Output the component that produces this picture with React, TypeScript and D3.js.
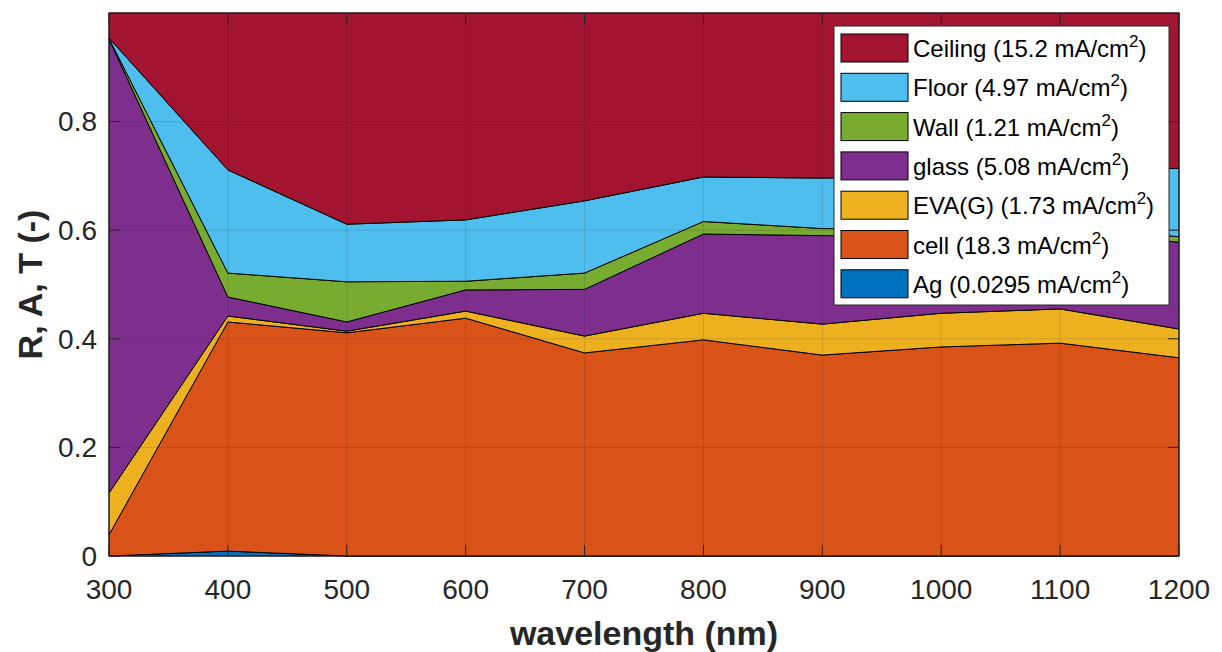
import * as d3 from "d3";

const wavelengths = [300, 400, 500, 600, 700, 800, 900, 1000, 1100, 1200];
// layer values, stacked bottom to top
const agValues = [0.0, 0.009, 0.0, 0.0, 0.0, 0.0, 0.0, 0.0, 0.0, 0.0];
const cellValues = [0.039, 0.422, 0.411, 0.438, 0.374, 0.398, 0.37, 0.385, 0.392, 0.365];
const evaValues = [0.077, 0.011, 0.003, 0.013, 0.031, 0.049, 0.057, 0.062, 0.063, 0.053];
const glassValues = [0.836, 0.035, 0.017, 0.039, 0.086, 0.146, 0.163, 0.143, 0.14, 0.16];
const wallValues = [0.001, 0.044, 0.074, 0.016, 0.03, 0.023, 0.013, 0.013, 0.012, 0.01];
const floorValues = [0.001, 0.19, 0.106, 0.113, 0.133, 0.082, 0.093, 0.097, 0.103, 0.126];
const ceilingValues = [0.046, 0.289, 0.389, 0.381, 0.346, 0.302, 0.304, 0.3, 0.29, 0.286];

const seriesNames = ["Ag", "cell", "EVA(G)", "glass", "Wall", "Floor", "Ceiling"];
const seriesCurrents = ["0.0295", "18.3", "1.73", "5.08", "1.21", "4.97", "15.2"];
const seriesColors = ["#0072BD", "#D95319", "#EDB120", "#7E2F8E", "#77AC30", "#4DBEEE", "#A2142F"];
const seriesValues = [agValues, cellValues, evaValues, glassValues, wallValues, floorValues, ceilingValues];

const yTicks = [0, 0.2, 0.4, 0.6, 0.8];
const xTicks = wavelengths;

const W = 1222;
const H = 652;
const left = 109;
const right = 1179;
const top = 13;
const bottom = 556;
const axisColor = "#262626";
const font = "'Liberation Sans', Arial, Helvetica, sans-serif";

export default function App() {
  const x = d3.scaleLinear().domain([300, 1200]).range([left, right]);
  const y = d3.scaleLinear().domain([0, 1]).range([bottom, top]);

  const rows = wavelengths.map((w, i) => {
    const row: Record<string, number> = { w };
    seriesNames.forEach((n, k) => (row[n] = seriesValues[k][i]));
    return row;
  });
  const stacked = d3.stack<Record<string, number>>().keys(seriesNames)(rows);

  const area = d3
    .area<d3.SeriesPoint<Record<string, number>>>()
    .x((d) => x(d.data.w))
    .y0((d) => y(d[0]))
    .y1((d) => y(d[1]));

  const legendX = 834;
  const legendY = 26;
  const legendW = 335;
  const legendH = 279;
  const rowH = 39.3;
  const legendOrder = [...seriesNames.keys()].reverse();

  return (
    <svg
      width={W}
      height={H}
      style={{ position: "absolute", left: 0, top: 0, background: "#fff" }}
      fontFamily={font}
    >
      {/* stacked areas */}
      {stacked.map((s, k) => (
        <path
          key={seriesNames[k]}
          d={area(s) ?? ""}
          fill={seriesColors[k]}
          stroke="#000"
          strokeWidth={1}
          strokeLinejoin="round"
        />
      ))}

      {/* grid on top */}
      <g stroke={axisColor} strokeOpacity={0.15} strokeWidth={1}>
        {xTicks.map((t) => (
          <line key={"gx" + t} x1={x(t)} x2={x(t)} y1={top} y2={bottom} />
        ))}
        {yTicks.map((t) => (
          <line key={"gy" + t} x1={left} x2={right} y1={y(t)} y2={y(t)} />
        ))}
      </g>

      {/* ticks */}
      <g stroke={axisColor} strokeWidth={1}>
        {xTicks.map((t) => (
          <g key={"tx" + t}>
            <line x1={x(t)} x2={x(t)} y1={bottom} y2={bottom - 11} />
            <line x1={x(t)} x2={x(t)} y1={top} y2={top + 11} />
          </g>
        ))}
        {yTicks.map((t) => (
          <g key={"ty" + t}>
            <line x1={left} x2={left + 11} y1={y(t)} y2={y(t)} />
            <line x1={right} x2={right - 11} y1={y(t)} y2={y(t)} />
          </g>
        ))}
      </g>

      {/* frame */}
      <rect
        x={left}
        y={top}
        width={right - left}
        height={bottom - top}
        fill="none"
        stroke={axisColor}
        strokeWidth={1}
      />

      {/* tick labels */}
      <g fill={axisColor} fontSize={28}>
        {xTicks.map((t) => (
          <text key={"lx" + t} x={x(t)} y={599} textAnchor="middle">
            {t}
          </text>
        ))}
        {yTicks.map((t) => (
          <text key={"ly" + t} x={97} y={y(t)} dy="0.35em" textAnchor="end">
            {t === 0 ? "0" : t.toFixed(1)}
          </text>
        ))}
      </g>

      {/* axis labels */}
      <text
        x={(left + right) / 2}
        y={645}
        textAnchor="middle"
        fontSize={34}
        fontWeight="bold"
        fill={axisColor}
      >
        wavelength (nm)
      </text>
      <text
        transform={`translate(42,${(top + bottom) / 2}) rotate(-90)`}
        textAnchor="middle"
        fontSize={34}
        fontWeight="bold"
        fill={axisColor}
      >
        R, A, T (-)
      </text>

      {/* legend */}
      <rect
        x={legendX}
        y={legendY}
        width={legendW}
        height={legendH}
        fill="#fff"
        stroke={axisColor}
        strokeWidth={1}
      />
      {legendOrder.map((k, i) => {
        const cy = legendY + 22 + i * rowH;
        return (
          <g key={"lg" + k}>
            <rect
              x={841}
              y={cy - 14}
              width={67}
              height={28}
              fill={seriesColors[k]}
              stroke="#000"
              strokeWidth={1}
            />
            <text x={913} y={cy + 9} fontSize={24} fill="#000">
              {seriesNames[k]} ({seriesCurrents[k]} mA/cm
              <tspan fontSize={17} dy={-10}>
                2
              </tspan>
              <tspan dy={10}>)</tspan>
            </text>
          </g>
        );
      })}
    </svg>
  );
}
